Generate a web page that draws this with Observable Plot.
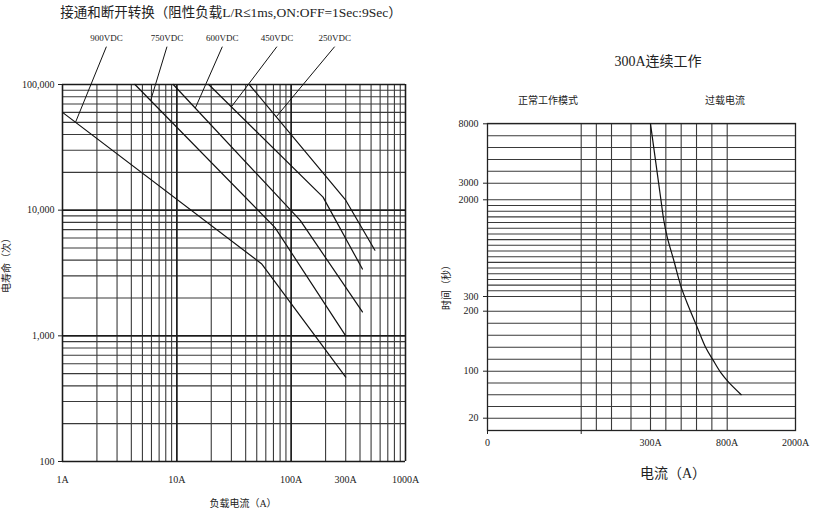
<!DOCTYPE html>
<html><head><meta charset="utf-8">
<script src="https://cdn.jsdelivr.net/npm/d3@7"></script>
<script src="https://cdn.jsdelivr.net/npm/@observablehq/plot@0.6"></script>
<style>
body{margin:0;background:#fff;}
#wrap{position:relative;width:816px;height:518px;overflow:hidden;background:#fff;font-family:"Liberation Serif","Noto Sans CJK SC",serif;color:#222;}
.lbl{position:absolute;white-space:nowrap;transform:translate(-50%,-50%);line-height:1;}
.rot{transform:translate(-50%,-50%) rotate(-90deg);}
#wrap svg{position:absolute;left:0;top:0;}
</style></head><body>
<div id="wrap">
  <div class="lbl" style="left:231px;top:13px;font-size:13.5px">接通和断开转换（阻性负载L/R≤1ms,ON:OFF=1Sec:9Sec）</div>
  <div class="lbl" style="left:243px;top:504px;font-size:10px">负载电流（A）</div>
  <div class="lbl rot" style="left:7px;top:263px;font-size:10px">电寿命（次）</div>
  <div class="lbl" style="left:658px;top:62px;font-size:14px">300A连续工作</div>
  <div class="lbl" style="left:548px;top:101px;font-size:10px">正常工作模式</div>
  <div class="lbl" style="left:725px;top:101px;font-size:10px">过载电流</div>
  <div class="lbl rot" style="left:447px;top:285px;font-size:10px">时间（秒）</div>
  <div class="lbl" style="left:673px;top:474px;font-size:14px">电流（A）</div>
</div>
<script>
// ---------- Left chart data: electrical life vs load current ----------
const lifeSeries  = ["900VDC", "750VDC", "600VDC", "450VDC", "250VDC"];
const lifeCurrent = [[1, 55, 300], [4.3, 72, 300], [9.3, 120, 420], [19, 190, 420], [43, 300, 540]];
const lifeCycles  = [[60000, 3750, 470], [100000, 7300, 1000], [100000, 8300, 1550], [100000, 12700, 3400], [100000, 12000, 4800]];
// label anchors (current in A) and the current where each leader meets its curve
const labelCurrent  = [2.42, 8.2, 25, 75, 240];
const leaderCurrent = [1.3, 5.9, 14.5, 30, 74];
const labelCycles   = 232000;   // label row above the frame
const leaderTopCycles = 200000;
const leftXTicks = [1, 10, 100, 300, 1000];
const leftXTickLabels = ["1A", "10A", "100A", "300A", "1000A"];
const leftYTicks = [100, 1000, 10000, 100000];
const leftYTickLabels = ["100", "1,000", "10,000", "100,000"];

// ---------- Right chart data: overload time vs current ----------
const overloadCurrent = [300, 353, 368, 387, 409, 452, 500, 550, 605, 659, 709, 757, 828, 1046];
const overloadTime    = [8000, 3000, 2000, 1636, 1343, 933, 464, 227, 173, 140, 118, 98, 81, 60];
const rightXBreaks = [0, 100, 200, 300, 800, 2000];
const rightYBreaks = [0, 20, 100, 200, 300, 2000, 3000, 8000];
const rightXTicks = [0, 300, 800, 2000];
const rightXTickLabels = ["0", "300A", "800A", "2000A"];
const rightYTicks = [20, 100, 200, 300, 2000, 3000, 8000];
const rightXGrid = [100, 150, 200, 250, 300, 400, 500, 600, 700, 800];
const rightYGrid = [20, 40, 60, 80, 100, 120, 140, 160, 180, 200]
  .concat(d3.range(300, 2001, 100), d3.range(3000, 8001, 1000));

// ---------- build tables ----------
const lifeRows = lifeSeries.flatMap((s, i) =>
  lifeCurrent[i].map((c, j) => ({series: s, current: c, cycles: lifeCycles[i][j]})));

function cyclesAt(i, c) {
  const xs = lifeCurrent[i], ys = lifeCycles[i];
  for (let j = 0; j < xs.length - 1; j++) {
    if (c >= xs[j] && c <= xs[j + 1]) {
      const t = (Math.log(c) - Math.log(xs[j])) / (Math.log(xs[j + 1]) - Math.log(xs[j]));
      return Math.exp(Math.log(ys[j]) + t * (Math.log(ys[j + 1]) - Math.log(ys[j])));
    }
  }
  return ys[0];
}
const labelRows = lifeSeries.map((s, i) => ({
  series: s, lx: labelCurrent[i], ly: labelCycles, ty: leaderTopCycles,
  cx: leaderCurrent[i], cy: cyclesAt(i, leaderCurrent[i])
}));

const decades = [1, 10, 100];
const leftXGrid = decades.flatMap(d => d3.range(1, 10).map(k => k * d)).concat([1000]);
const leftYGrid = [100, 1000, 10000].flatMap(d => d3.range(1, 10).map(k => k * d)).concat([100000]);
const leftXMajor = [1, 10, 100, 1000];
const leftYMajor = [100, 1000, 10000, 100000];

const font = '"Liberation Serif","Noto Sans CJK SC",serif';
const gridStroke = "#3a3a3a";

const left = Plot.plot({
  width: 816, height: 518,
  marginLeft: 62, marginRight: 411, marginTop: 84, marginBottom: 57,
  x: {type: "log", domain: [1, 1000]},
  y: {type: "log", domain: [100, 100000]},
  style: {background: "transparent", fontFamily: font, fontSize: "10px", color: "#222", overflow: "visible"},
  marks: [
    Plot.ruleX(leftXGrid, {stroke: gridStroke, strokeWidth: 1.1}),
    Plot.ruleY(leftYGrid, {stroke: gridStroke, strokeWidth: 1.1}),
    Plot.ruleX(leftXMajor, {stroke: "#1a1a1a", strokeWidth: 1.5}),
    Plot.ruleY(leftYMajor, {stroke: "#1a1a1a", strokeWidth: 1.5}),
    Plot.line(lifeRows, {x: "current", y: "cycles", z: "series", stroke: "#111", strokeWidth: 1.2}),
    Plot.link(labelRows, {x1: "lx", y1: "ty", x2: "cx", y2: "cy", stroke: "#111", strokeWidth: 1}),
    Plot.text(labelRows, {x: "lx", y: "ly", text: "series", fontSize: 9, fill: "#222"}),
    Plot.axisY({ticks: leftYTicks, tickFormat: d => leftYTickLabels[leftYTicks.indexOf(d)], tickSize: 4, tickPadding: 4, label: null, stroke: "#222"}),
    Plot.axisX({ticks: leftXTicks, tickFormat: d => leftXTickLabels[leftXTicks.indexOf(d)], tickSize: 0, tickPadding: 14, label: null})
  ]
});

const right = Plot.plot({
  width: 816, height: 518,
  marginLeft: 487, marginRight: 21, marginTop: 123, marginBottom: 88,
  x: {type: "linear", domain: rightXBreaks, range: [487, 580.7, 611, 650, 726.7, 795]},
  y: {type: "linear", domain: rightYBreaks, range: [430, 417.7, 370.7, 310.7, 296, 199.3, 182.7, 123.3]},
  style: {background: "transparent", fontFamily: font, fontSize: "10px", color: "#222", overflow: "visible"},
  marks: [
    Plot.ruleX(rightXGrid, {stroke: gridStroke, strokeWidth: 1.1}),
    Plot.ruleY(rightYGrid, {stroke: gridStroke, strokeWidth: 1.1}),
    Plot.frame({stroke: "#222", strokeWidth: 1.3}),
    Plot.line(overloadCurrent.map((c, i) => ({current: c, time: overloadTime[i]})),
      {x: "current", y: "time", stroke: "#111", strokeWidth: 1.2, curve: "catmull-rom"}),
    Plot.axisY({ticks: rightYTicks, tickFormat: d3.format("d"), tickSize: 4, tickPadding: 5, label: null}),
    Plot.axisX({ticks: [0, 100], tickFormat: () => "", tickSize: 4, label: null}),
    Plot.axisX({ticks: rightXTicks, tickFormat: d => rightXTickLabels[rightXTicks.indexOf(d)], tickSize: 0, tickPadding: 8, label: null})
  ]
});

const wrap = document.getElementById("wrap");
wrap.appendChild(left);
wrap.appendChild(right);
</script>
</body></html>
